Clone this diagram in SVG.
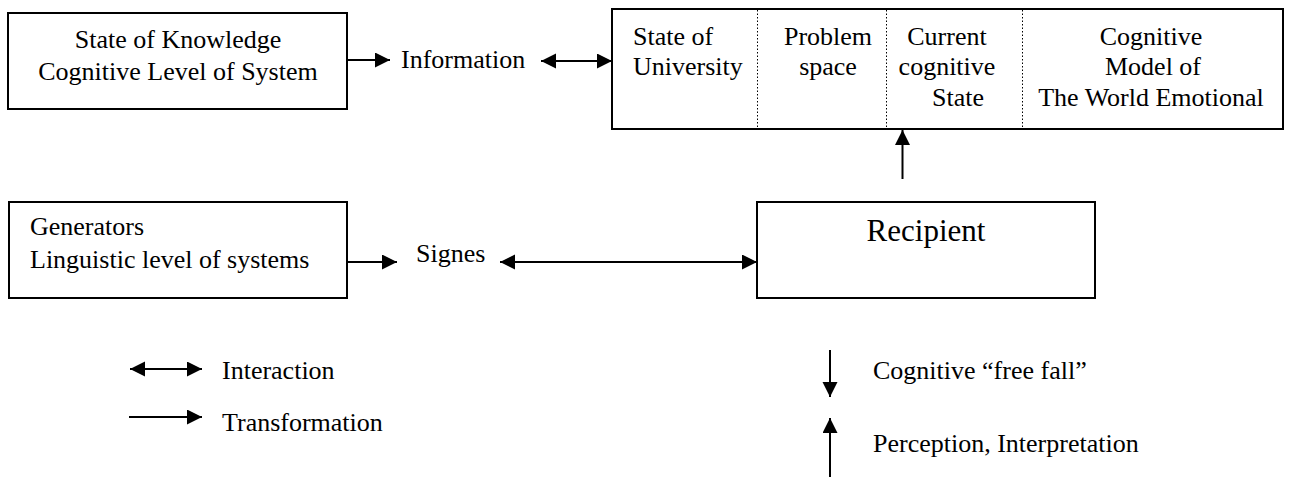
<svg xmlns="http://www.w3.org/2000/svg" width="1289" height="478" viewBox="0 0 1289 478">
<style>
  text { font-family: "Liberation Serif", "Times New Roman", serif; font-size: 26px; fill: #000; }
  .c { text-anchor: middle; }
  .box { fill: #fff; stroke: #000; stroke-width: 2; }
  .div { stroke: #000; stroke-width: 1; stroke-dasharray: 1.5 2; }
  .ln { stroke: #000; stroke-width: 2; fill: none; }
  .big { font-size: 31px; }
</style>
<defs>
  <marker id="ah" markerUnits="userSpaceOnUse" markerWidth="16" markerHeight="16" refX="15" refY="7.5" orient="auto-start-reverse" viewBox="0 0 16 16">
    <path d="M0,0 L15,7.5 L0,15 z" fill="#000"/>
  </marker>
</defs>
<rect width="1289" height="478" fill="#fff"/>

<g id="node-knowledge">
  <rect class="box" x="8" y="13" width="339" height="96"/>
  <text class="c" x="178" y="48">State of Knowledge</text>
  <text class="c" x="178" y="80">Cognitive Level of System</text>
</g>

<g id="node-information">
  <text x="401" y="68">Information</text>
</g>

<g id="node-cognitive-state">
  <rect class="box" x="612" y="9" width="671" height="120"/>
  <line class="div" x1="757.5" y1="10" x2="757.5" y2="128"/>
  <line class="div" x1="886.5" y1="10" x2="886.5" y2="128"/>
  <line class="div" x1="1022.5" y1="10" x2="1022.5" y2="128"/>
  <text x="633" y="45">State of</text>
  <text x="633" y="75">University</text>
  <text class="c" x="828" y="45">Problem</text>
  <text class="c" x="828" y="75">space</text>
  <text class="c" x="947" y="45">Current</text>
  <text class="c" x="947" y="75">cognitive</text>
  <text class="c" x="958" y="106">State</text>
  <text class="c" x="1151" y="45">Cognitive</text>
  <text class="c" x="1153" y="75">Model of</text>
  <text class="c" x="1151" y="106">The World Emotional</text>
</g>

<g id="node-generators">
  <rect class="box" x="9" y="202" width="338" height="96"/>
  <text x="30" y="235">Generators</text>
  <text x="30" y="268">Linguistic level of systems</text>
</g>

<g id="node-signes">
  <text x="416" y="262">Signes</text>
</g>

<g id="node-recipient">
  <rect class="box" x="757" y="202" width="338" height="96"/>
  <text class="c big" x="926" y="241">Recipient</text>
</g>

<g id="legend">
  <text x="222" y="379">Interaction</text>
  <text x="222" y="431">Transformation</text>
  <text x="873" y="379">Cognitive “free fall”</text>
  <text x="873" y="452">Perception, Interpretation</text>
</g>

<g id="connectors">
  <line class="ln" x1="347" y1="60" x2="390" y2="60" marker-end="url(#ah)"/>
  <line class="ln" x1="541" y1="61" x2="612" y2="61" marker-start="url(#ah)" marker-end="url(#ah)"/>
  <line class="ln" x1="902.5" y1="179" x2="902.5" y2="130" marker-end="url(#ah)"/>
  <line class="ln" x1="347" y1="262" x2="397" y2="262" marker-end="url(#ah)"/>
  <line class="ln" x1="500" y1="262" x2="757" y2="262" marker-start="url(#ah)" marker-end="url(#ah)"/>
  <line class="ln" x1="130" y1="369" x2="202" y2="369" marker-start="url(#ah)" marker-end="url(#ah)"/>
  <line class="ln" x1="129" y1="417" x2="202" y2="417" marker-end="url(#ah)"/>
  <line class="ln" x1="830" y1="350" x2="830" y2="397" marker-end="url(#ah)"/>
  <line class="ln" x1="830" y1="477" x2="830" y2="418" marker-end="url(#ah)"/>
</g>
</svg>
